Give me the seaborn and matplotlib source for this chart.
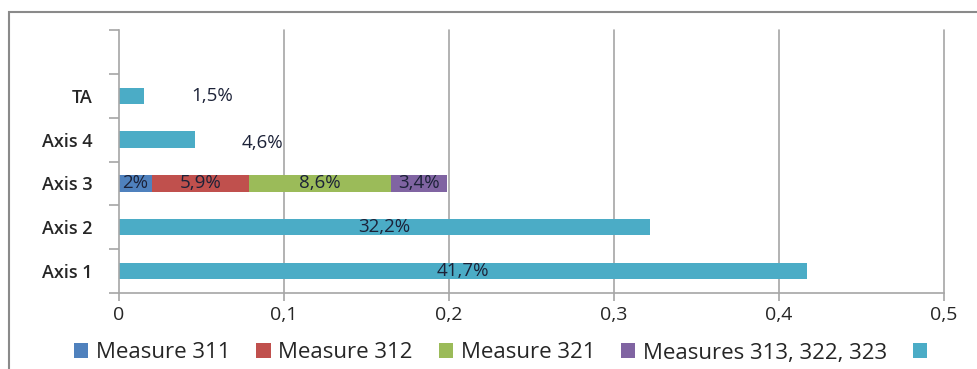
import matplotlib
matplotlib.use("Agg")
import matplotlib.pyplot as plt
from matplotlib.patches import Patch, Rectangle
import numpy as np
import pandas as pd
import seaborn as sns

# Categories, top to bottom (the first slot is an empty row)
categories = ["", "TA", "Axis 4", "Axis 3", "Axis 2", "Axis 1"]

# Stacked segments (only Axis 3 is split into measures)
measure_311 = [0, 0, 0, 0.020, 0, 0]
measure_312 = [0, 0, 0, 0.059, 0, 0]
measure_321 = [0, 0, 0, 0.086, 0, 0]
measures_313_322_323 = [0, 0, 0, 0.034, 0, 0]
overall = [0, 0.015, 0.046, 0, 0.322, 0.417]

series_names = ["Measure 311", "Measure 312", "Measure 321",
                "Measures 313, 322, 323", ""]
series_values = [measure_311, measure_312, measure_321,
                 measures_313_322_323, overall]
series_labels = [
    ["", "", "", "2%", "", ""],
    ["", "", "", "5,9%", "", ""],
    ["", "", "", "8,6%", "", ""],
    ["", "", "", "3,4%", "", ""],
    ["", "1,5%", "4,6%", "", "32,2%", "41,7%"],
]
colors = ["#4F81BD", "#C0504D", "#9BBB59", "#8064A2", "#4BACC6"]

x_ticks = [0, 0.1, 0.2, 0.3, 0.4, 0.5]
x_tick_labels = ["0", "0,1", "0,2", "0,3", "0,4", "0,5"]

sns.set_theme(style="white")
plt.rcParams["font.family"] = ["Open Sans", "DejaVu Sans"]

fig = plt.figure(figsize=(9.77, 3.69), dpi=100)
fig.patch.set_facecolor("white")
ax = fig.add_axes([119 / 977, 1 - 293 / 369, (944 - 119) / 977, (293 - 30) / 369])

grid_color = "#a6a6a6"
for xt in x_ticks[1:]:
    ax.axvline(xt, color=grid_color, linewidth=1.2, zorder=0, clip_on=False)

# cumulative stacks; draw the longest first so shorter ones sit on top
vals = np.array(series_values, dtype=float)
cum = np.cumsum(vals, axis=0)
starts = cum - vals
for i in reversed(range(len(series_names))):
    df = pd.DataFrame({"cat": categories, "val": cum[i]})
    df.loc[vals[i] <= 0, "val"] = 0
    sns.barplot(data=df, x="val", y="cat", order=categories, orient="h",
                color=colors[i], saturation=1, width=0.37, ax=ax,
                edgecolor="none", linewidth=0, zorder=2)

label_color = "#1c2238"
for i, labels in enumerate(series_labels):
    for j, lab in enumerate(labels):
        if not lab:
            continue
        center = starts[i][j] + vals[i][j] / 2
        dy = 0
        if categories[j] == "TA":
            center, dy = 0.0565, 0.0
        elif categories[j] == "Axis 4":
            center, dy = 0.087, 0.08
        ax.text(center, j + dy, lab, ha="center", va="center",
                fontsize=13.5, color=label_color, zorder=3)

ax.set_xlim(0, 0.5)
ax.set_ylim(len(categories) - 0.5, -0.5)
ax.set_xticks(x_ticks)
ax.set_xticklabels(x_tick_labels, fontsize=14, color="#262626")
ax.set_yticks(range(len(categories)))
ax.set_yticklabels(categories, fontsize=13, fontweight="semibold",
                   color="#262626")
ax.set_yticks(np.arange(-0.5, len(categories), 1), minor=True)
ax.tick_params(axis="y", which="major", left=True, length=0, pad=19)
ax.tick_params(axis="y", which="minor", left=True, length=7, width=1.2,
               color=grid_color, direction="out")
ax.tick_params(axis="x", which="major", bottom=True, length=6, width=1.2,
               color=grid_color, direction="out", pad=3)
ax.set_xlabel("")
ax.set_ylabel("")
ax.grid(False)
for side in ["top", "right"]:
    ax.spines[side].set_visible(False)
for side in ["left", "bottom"]:
    ax.spines[side].set_color(grid_color)
    ax.spines[side].set_linewidth(1.2)

# outer chart frame
fig.add_artist(Rectangle((9 / 977, -0.1), 1.2, 1 - 12 / 369 + 0.1,
                         transform=fig.transFigure, fill=False,
                         edgecolor="#8a8a8a", linewidth=1.5))

handles = [Patch(facecolor=c, edgecolor="none") for c in colors]
fig.legend(handles, series_names, loc="center left", ncol=5,
           bbox_to_anchor=(54 / 977, 1 - 353 / 369), frameon=False,
           fontsize=16, handlelength=0.65, handleheight=0.65,
           handletextpad=0.35, columnspacing=1.15, labelcolor="#262626")

fig.savefig("out.png", dpi=100)
